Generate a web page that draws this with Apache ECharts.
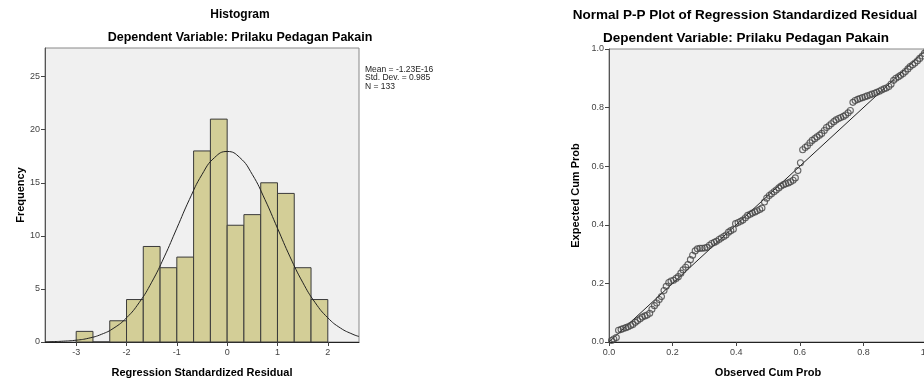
<!DOCTYPE html>
<html>
<head>
<meta charset="utf-8">
<script src="https://cdn.jsdelivr.net/npm/echarts@6/dist/echarts.min.js"></script>
<style>
  html, body { margin: 0; padding: 0; background: #fff; }
  #container { width: 924px; height: 379px; }
</style>
</head>
<body>
<div id="container"></div>
<script>
// histogram bins (width 1/3) and counts
var binStart = [-3, -2.667, -2.333, -2, -1.667, -1.333, -1, -0.667, -0.333, 0, 0.333, 0.667, 1, 1.333, 1.667];
var binEnd = [-2.667, -2.333, -2, -1.667, -1.333, -1, -0.667, -0.333, 0, 0.333, 0.667, 1, 1.333, 1.667, 2];
var binCount = [1, 0, 2, 4, 9, 7, 8, 18, 21, 11, 12, 15, 14, 7, 4];

// normal curve
var curveX = [-3.62, -3.5, -3.25, -3, -2.75, -2.5, -2.25, -2, -1.75, -1.5, -1.25, -1, -0.75, -0.5, -0.25, 0,
  0.25, 0.5, 0.75, 1, 1.25, 1.5, 1.75, 2, 2.25, 2.5, 2.62];
var curveY = [0.02, 0.03, 0.08, 0.17, 0.36, 0.72, 1.32, 2.28, 3.7, 5.63, 8.02, 10.72, 13.43, 15.78, 17.38, 17.95,
  17.38, 15.78, 13.43, 10.72, 8.02, 5.63, 3.7, 2.28, 1.32, 0.72, 0.52];

var histXTicks = [-3, -2, -1, 0, 1, 2];
var histYTicks = [0, 5, 10, 15, 20, 25];
var statsLines = ['Mean = -1.23E-16', 'Std. Dev. = 0.985', 'N = 133'];

// P-P plot: observed vs expected cumulative probability
var ppObserved = [0.008, 0.015, 0.023, 0.030, 0.038, 0.045, 0.053, 0.060, 0.068, 0.075,
  0.083, 0.090, 0.098, 0.105, 0.113, 0.120, 0.128, 0.135, 0.143, 0.150,
  0.158, 0.165, 0.173, 0.180, 0.188, 0.195, 0.203, 0.211, 0.218, 0.226,
  0.233, 0.241, 0.248, 0.256, 0.263, 0.271, 0.278, 0.286, 0.293, 0.301,
  0.308, 0.316, 0.323, 0.331, 0.338, 0.346, 0.353, 0.361, 0.368, 0.376,
  0.383, 0.391, 0.398, 0.406, 0.414, 0.421, 0.429, 0.436, 0.444, 0.451,
  0.459, 0.466, 0.474, 0.481, 0.489, 0.496, 0.504, 0.511, 0.519, 0.526,
  0.534, 0.541, 0.549, 0.556, 0.564, 0.571, 0.579, 0.586, 0.594, 0.602,
  0.609, 0.617, 0.624, 0.632, 0.639, 0.647, 0.654, 0.662, 0.669, 0.677,
  0.684, 0.692, 0.699, 0.707, 0.714, 0.722, 0.729, 0.737, 0.744, 0.752,
  0.759, 0.767, 0.774, 0.782, 0.789, 0.797, 0.805, 0.812, 0.820, 0.827,
  0.835, 0.842, 0.850, 0.857, 0.865, 0.872, 0.880, 0.887, 0.895, 0.902,
  0.910, 0.917, 0.925, 0.932, 0.940, 0.947, 0.955, 0.962, 0.970, 0.977,
  0.985, 0.992, 1.000];
var ppExpected = [0.005, 0.010, 0.015, 0.040, 0.043, 0.046, 0.049, 0.052, 0.056, 0.060,
  0.067, 0.073, 0.079, 0.085, 0.089, 0.092, 0.098, 0.112, 0.124, 0.133,
  0.145, 0.155, 0.176, 0.190, 0.203, 0.208, 0.211, 0.217, 0.223, 0.235,
  0.246, 0.255, 0.264, 0.281, 0.296, 0.311, 0.318, 0.320, 0.320, 0.321,
  0.323, 0.330, 0.336, 0.340, 0.344, 0.350, 0.355, 0.360, 0.365, 0.375,
  0.380, 0.385, 0.404, 0.408, 0.412, 0.416, 0.424, 0.432, 0.436, 0.440,
  0.444, 0.448, 0.452, 0.457, 0.478, 0.491, 0.500, 0.506, 0.513, 0.519,
  0.526, 0.532, 0.537, 0.540, 0.543, 0.547, 0.552, 0.560, 0.585, 0.612,
  0.656, 0.664, 0.670, 0.680, 0.688, 0.694, 0.700, 0.706, 0.712, 0.722,
  0.732, 0.738, 0.745, 0.752, 0.758, 0.763, 0.766, 0.770, 0.775, 0.782,
  0.790, 0.818, 0.824, 0.828, 0.831, 0.834, 0.837, 0.840, 0.843, 0.846,
  0.849, 0.852, 0.856, 0.860, 0.864, 0.867, 0.872, 0.880, 0.893, 0.900,
  0.905, 0.910, 0.916, 0.923, 0.932, 0.940, 0.946, 0.952, 0.960, 0.968,
  0.976, 0.985, 0.995];
var diagX = [0, 1];
var diagY = [0, 1];

var FONT = '"Liberation Sans", Arial, sans-serif';

var dom = document.getElementById('container');
var chart = echarts.init(dom, null, { renderer: 'canvas' });

var histData = binStart.map(function (s, i) { return [s, binEnd[i], binCount[i]]; });
var curveData = curveX.map(function (x, i) { return [x, curveY[i]]; });
var ppData = ppObserved.map(function (x, i) { return [x, ppExpected[i]]; });
var diagData = diagX.map(function (x, i) { return [x, diagY[i]]; });

var labelStyle = { color: '#444', fontSize: 9, fontFamily: FONT };
var nameStyle = { color: '#000', fontSize: 11, fontWeight: 'bold', fontFamily: FONT };

var option = {
    animation: false,
    backgroundColor: '#fff',
    graphic: [
        { type: 'text', x: 240, y: 15, style: { text: 'Histogram', align: 'center', verticalAlign: 'middle', font: 'bold 12px ' + FONT, fill: '#000' } },
        { type: 'text', x: 240, y: 38, style: { text: 'Dependent Variable: Prilaku Pedagan Pakain', align: 'center', verticalAlign: 'middle', font: 'bold 12.5px ' + FONT, fill: '#000' } },
        { type: 'text', x: 365, y: 65, style: { text: statsLines.join('\n'), align: 'left', verticalAlign: 'top', font: '8.5px ' + FONT, lineHeight: 8.5, fill: '#222' } },
        { type: 'text', x: 745, y: 15, style: { text: 'Normal P-P Plot of Regression Standardized Residual', align: 'center', verticalAlign: 'middle', font: 'bold 13.5px ' + FONT, fill: '#000' } },
        { type: 'text', x: 746, y: 38, style: { text: 'Dependent Variable: Prilaku Pedagan Pakain', align: 'center', verticalAlign: 'middle', font: 'bold 13.5px ' + FONT, fill: '#000' } }
    ],
    grid: [
        { left: 45, top: 48, width: 314, bottom: 37, outerBoundsMode: 'none', show: true, backgroundColor: '#f0f0f0', borderColor: '#888', borderWidth: 1 },
        { left: 609, top: 49, width: 318, bottom: 37, outerBoundsMode: 'none', show: true, backgroundColor: '#f0f0f0', borderColor: '#888', borderWidth: 1 }
    ],
    xAxis: [
        {
            gridIndex: 0, type: 'value', min: -3.62, max: 2.62,
            name: 'Regression Standardized Residual', nameLocation: 'middle', nameGap: 25, nameTextStyle: nameStyle,
            axisLine: { show: true, onZero: false, lineStyle: { color: '#222', width: 1 } },
            axisTick: { show: true, length: 4, customValues: histXTicks, lineStyle: { color: '#444' } },
            axisLabel: Object.assign({ customValues: histXTicks, margin: 6 }, labelStyle),
            splitLine: { show: false }
        },
        {
            gridIndex: 1, type: 'value', min: 0, max: 1, interval: 0.2,
            name: 'Observed Cum Prob', nameLocation: 'middle', nameGap: 25, nameTextStyle: nameStyle,
            axisLine: { show: true, onZero: false, lineStyle: { color: '#222', width: 1 } },
            axisTick: { show: true, length: 4, lineStyle: { color: '#444' } },
            axisLabel: Object.assign({ margin: 6, hideOverlap: false, formatter: function (v) { return v.toFixed(1); } }, labelStyle),
            splitLine: { show: false }
        }
    ],
    yAxis: [
        {
            gridIndex: 0, type: 'value', min: 0, max: 27.7,
            name: 'Frequency', nameLocation: 'middle', nameGap: 16, nameTextStyle: nameStyle,
            axisLine: { show: true, onZero: false, lineStyle: { color: '#555', width: 1 } },
            axisTick: { show: true, length: 4, customValues: histYTicks, lineStyle: { color: '#444' } },
            axisLabel: Object.assign({ margin: 5, customValues: histYTicks }, labelStyle),
            splitLine: { show: false }
        },
        {
            gridIndex: 1, type: 'value', min: 0, max: 1, interval: 0.2,
            name: 'Expected Cum Prob', nameLocation: 'middle', nameGap: 28, nameTextStyle: nameStyle,
            axisLine: { show: true, onZero: false, lineStyle: { color: '#555', width: 1 } },
            axisTick: { show: true, length: 4, lineStyle: { color: '#444' } },
            axisLabel: Object.assign({ margin: 5, formatter: function (v) { return v.toFixed(1); } }, labelStyle),
            splitLine: { show: false }
        }
    ],
    series: [
        {
            type: 'custom',
            xAxisIndex: 0, yAxisIndex: 0,
            data: histData,
            encode: { x: [0, 1], y: 2 },
            renderItem: function (params, api) {
                var p0 = api.coord([api.value(0), api.value(2)]);
                var p1 = api.coord([api.value(1), 0]);
                return {
                    type: 'rect',
                    shape: { x: p0[0], y: p0[1], width: p1[0] - p0[0], height: p1[1] - p0[1] },
                    style: { fill: '#d3ce97', stroke: '#3a3a3a', lineWidth: 1 }
                };
            },
            z: 2
        },
        {
            type: 'line',
            xAxisIndex: 0, yAxisIndex: 0,
            data: curveData,
            smooth: true,
            showSymbol: false,
            lineStyle: { color: '#222', width: 1 },
            z: 3
        },
        {
            type: 'line',
            xAxisIndex: 1, yAxisIndex: 1,
            data: diagData,
            showSymbol: false,
            lineStyle: { color: '#222', width: 1 },
            z: 2
        },
        {
            type: 'scatter',
            xAxisIndex: 1, yAxisIndex: 1,
            data: ppData,
            symbol: 'circle',
            symbolSize: 6,
            itemStyle: { color: 'rgba(0,0,0,0)', borderColor: '#444', borderWidth: 1.1 },
            z: 3
        }
    ]
};

chart.setOption(option);
</script>
</body>
</html>
